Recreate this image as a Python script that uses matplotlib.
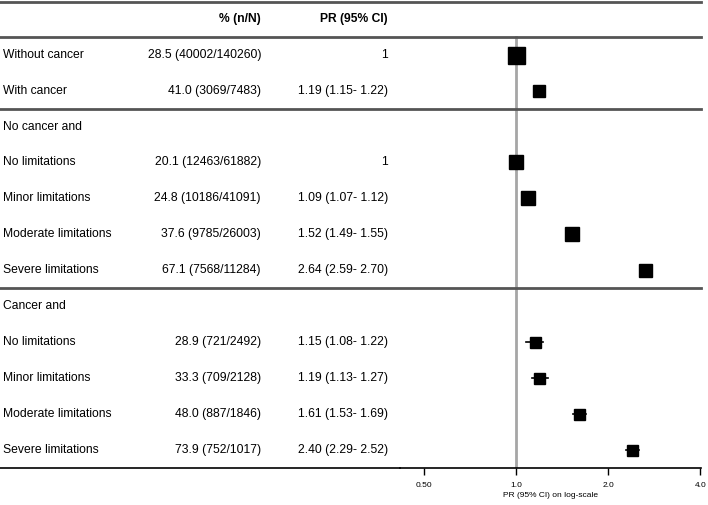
import numpy as np
import matplotlib
matplotlib.use("Agg")
import matplotlib.pyplot as plt
import matplotlib.transforms as mtransforms
from matplotlib.lines import Line2D

plt.rcParams["font.family"] = ["Liberation Sans", "DejaVu Sans"]

# Data
labels = ["Without cancer", "With cancer", "No cancer and", "No limitations",
          "Minor limitations", "Moderate limitations", "Severe limitations",
          "Cancer and", "No limitations", "Minor limitations",
          "Moderate limitations", "Severe limitations"]
pct_text = ["28.5 (40002/140260)", "41.0 (3069/7483)", "", "20.1 (12463/61882)",
            "24.8 (10186/41091)", "37.6 (9785/26003)", "67.1 (7568/11284)", "",
            "28.9 (721/2492)", "33.3 (709/2128)", "48.0 (887/1846)",
            "73.9 (752/1017)"]
pr_text = ["1", "1.19 (1.15- 1.22)", "", "1", "1.09 (1.07- 1.12)",
           "1.52 (1.49- 1.55)", "2.64 (2.59- 2.70)", "", "1.15 (1.08- 1.22)",
           "1.19 (1.13- 1.27)", "1.61 (1.53- 1.69)", "2.40 (2.29- 2.52)"]
pr = [1.0, 1.19, np.nan, 1.0, 1.09, 1.52, 2.64, np.nan, 1.15, 1.19, 1.61, 2.40]
lo = [1.0, 1.15, np.nan, 1.0, 1.07, 1.49, 2.59, np.nan, 1.08, 1.13, 1.53, 2.29]
hi = [1.0, 1.22, np.nan, 1.0, 1.12, 1.55, 2.70, np.nan, 1.22, 1.27, 1.69, 2.52]
xticks = [0.5, 1.0, 2.0, 4.0]
xtick_labels = ["0.50", "1.0", "2.0", "4.0"]

# marker size in pixels per row (style)
marker_px = [17, 12, 0, 14, 14, 14, 13, 0, 11, 11, 11, 11]

W, H = 708, 505
fig = plt.figure(figsize=(W / 100, H / 100), dpi=100)

# forest axes: x 400..701 px, y from top to 468 px
ax = fig.add_axes([400 / W, (H - 468) / H, 301 / W, 468 / H])
ax.set_xscale("log")
ax.set_xlim(0.417, 4.02)
ax.set_ylim(12.5, -0.52)

rows = np.arange(1, len(labels) + 1)
pr = np.array(pr)
lo = np.array(lo)
hi = np.array(hi)

ax.axvline(1.0, color="#a6a6a6", lw=2, zorder=1, ymax=(12.5 - 0.5) / 13.02)

for r, p, l, h, m in zip(rows, pr, lo, hi, marker_px):
    if np.isnan(p):
        continue
    ax.plot([l, h], [r, r], color="black", lw=1.2, zorder=2)
    ax.plot(p, r, marker="s", color="black", markersize=m * 0.72, zorder=3)

for s in ["top", "right", "left"]:
    ax.spines[s].set_visible(False)
ax.spines["bottom"].set_linewidth(1.2)
ax.set_yticks([])
ax.set_xticks(xticks)
ax.set_xticklabels(xtick_labels, fontsize=6)
ax.xaxis.set_minor_locator(matplotlib.ticker.NullLocator())
ax.tick_params(axis="x", direction="out", length=5, width=1, pad=5)
ax.set_xlabel("PR (95% CI) on log-scale", fontsize=6, labelpad=2.5)

# table text: x in figure pixels, y in row units
trans = mtransforms.blended_transform_factory(
    mtransforms.Affine2D().scale(1.0 / W, 1.0) + fig.transFigure, ax.transData)

fs = 8.7
ax.text(261, 0, "% (n/N)", transform=trans, ha="right", va="center",
        fontsize=fs, fontweight="bold", clip_on=False)
ax.text(388, 0, "PR (95% CI)", transform=trans, ha="right", va="center",
        fontsize=fs, fontweight="bold", clip_on=False)
for r, lab, pt, prt in zip(rows, labels, pct_text, pr_text):
    ax.text(3, r, lab, transform=trans, ha="left", va="center", fontsize=fs,
            clip_on=False)
    ax.text(261, r, pt, transform=trans, ha="right", va="center", fontsize=fs,
            clip_on=False)
    ax.text(388, r, prt, transform=trans, ha="right", va="center", fontsize=fs,
            clip_on=False)

# horizontal rules across table and plot
for y in [-0.47, 0.5, 2.5, 7.5]:
    fig.add_artist(Line2D([0, 701], [y, y], transform=trans, color="#555555",
                          lw=2))
fig.add_artist(Line2D([0, 400], [12.5, 12.5], transform=trans, color="black",
                      lw=1.2))

fig.savefig("out.png", dpi=100)
